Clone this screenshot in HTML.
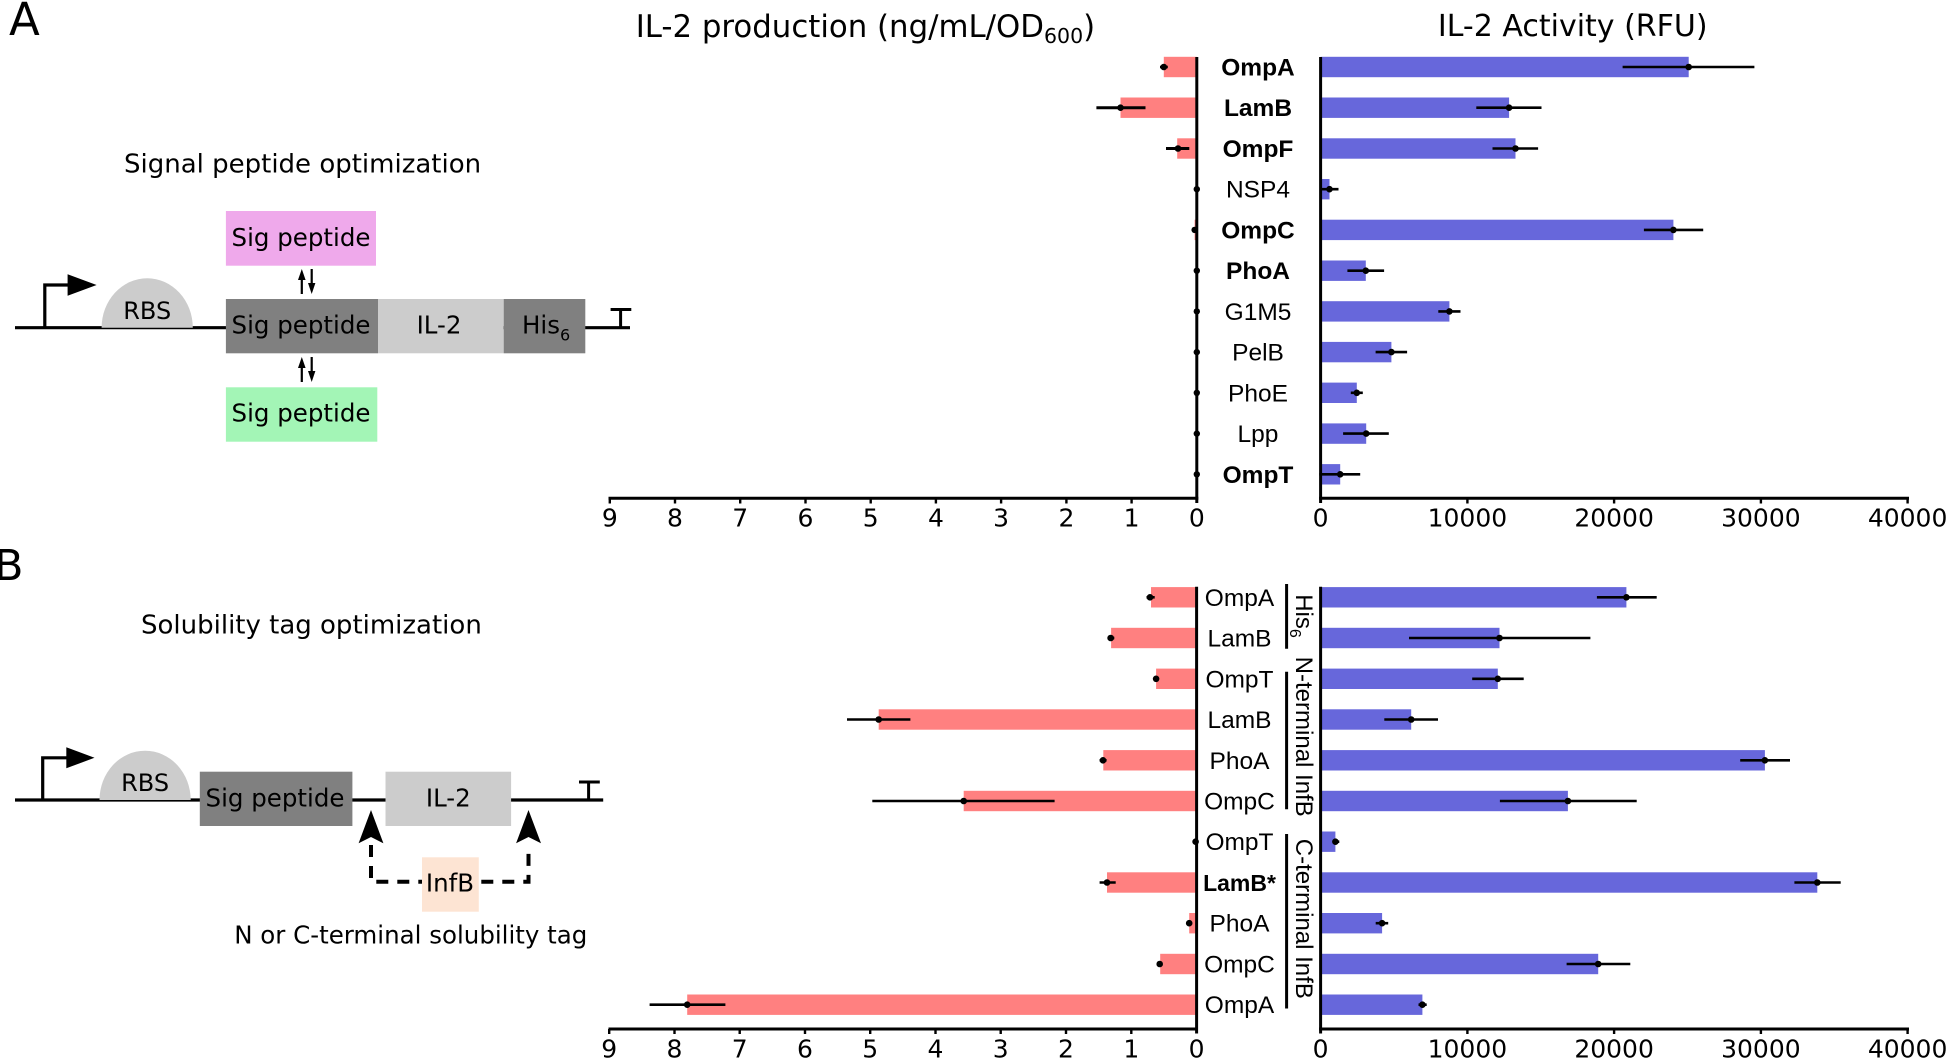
<!DOCTYPE html>
<html><head><meta charset="utf-8"><style>
html,body{margin:0;padding:0;background:#fff;}
svg{display:block;}
</style></head><body>
<svg width="1949" height="1059" viewBox="0 0 1949 1059" xmlns="http://www.w3.org/2000/svg" font-family="'DejaVu Sans', sans-serif">
<rect width="1949" height="1059" fill="#fff"/>

<!-- Panel letters -->
<text x="9" y="35" font-size="45">A</text>
<text x="-6" y="580" font-size="43">B</text>

<!-- ===== Diagram A ===== -->
<text x="124" y="172.7" font-size="26">Signal peptide optimization</text>
<rect x="225.9" y="211" width="150.1" height="54.7" fill="#EFA9EB"/>
<text x="301" y="246" font-size="24.5" text-anchor="middle">Sig peptide</text>
<!-- arrows top -->
<g stroke="#000" stroke-width="2.2" fill="#000">
<line x1="301.8" y1="294" x2="301.8" y2="276"/>
<polygon points="301.8,269 298,280 305.6,280" stroke="none"/>
<line x1="311.7" y1="269" x2="311.7" y2="287"/>
<polygon points="311.7,294 308,283 315.4,283" stroke="none"/>
<line x1="301.8" y1="382" x2="301.8" y2="364"/>
<polygon points="301.8,357 298,368 305.6,368" stroke="none"/>
<line x1="311.7" y1="357" x2="311.7" y2="375"/>
<polygon points="311.7,382 308,371 315.4,371" stroke="none"/>
</g>
<!-- main line -->
<line x1="15" y1="327.7" x2="630" y2="327.7" stroke="#000" stroke-width="3.2"/>
<polyline points="44.8,327.7 44.8,285 70,285" fill="none" stroke="#000" stroke-width="3.2"/>
<polygon points="67.6,274.3 67.6,295.7 96.6,285" fill="#000"/>
<path d="M101.6,327.7 A45.6,49.4 0 0 1 192.8,327.7 Z" fill="#CCCCCC"/>
<text x="147.2" y="319" font-size="24" text-anchor="middle">RBS</text>
<rect x="225.9" y="299" width="152.1" height="54.3" fill="#808080"/>
<rect x="378" y="299" width="125.7" height="54.3" fill="#CCCCCC"/>
<rect x="503.7" y="299" width="81.6" height="54.3" fill="#808080"/>
<text x="301" y="333.3" font-size="24.5" text-anchor="middle">Sig peptide</text>
<text x="439" y="333.3" font-size="24.5" text-anchor="middle">IL-2</text>
<text x="522" y="333.3" font-size="24.5">His<tspan font-size="16" dy="7">6</tspan></text>
<line x1="620.6" y1="309" x2="620.6" y2="327.7" stroke="#000" stroke-width="3"/>
<line x1="610.6" y1="309.5" x2="631.3" y2="309.5" stroke="#000" stroke-width="3"/>
<rect x="225.9" y="387.3" width="151.4" height="54.4" fill="#A3F5B6"/>
<text x="301" y="421.7" font-size="24.5" text-anchor="middle">Sig peptide</text>

<!-- ===== Diagram B ===== -->
<text x="141" y="633.3" font-size="26">Solubility tag optimization</text>
<line x1="15" y1="800" x2="603.2" y2="800" stroke="#000" stroke-width="3.2"/>
<polyline points="42.7,800 42.7,757.8 68,757.8" fill="none" stroke="#000" stroke-width="3.2"/>
<polygon points="66.3,747.3 66.3,768.3 94.5,757.8" fill="#000"/>
<path d="M99.5,800 A45.6,49.3 0 0 1 190.7,800 Z" fill="#CCCCCC"/>
<text x="145.1" y="791" font-size="24" text-anchor="middle">RBS</text>
<rect x="199.8" y="771.7" width="152.6" height="54.3" fill="#808080"/>
<text x="275" y="806.7" font-size="24.5" text-anchor="middle">Sig peptide</text>
<rect x="385.5" y="771.7" width="125.6" height="54.3" fill="#CCCCCC"/>
<text x="448.3" y="806.7" font-size="24.5" text-anchor="middle">IL-2</text>
<line x1="588.6" y1="781.7" x2="588.6" y2="800" stroke="#000" stroke-width="3"/>
<line x1="579" y1="782" x2="599.8" y2="782" stroke="#000" stroke-width="3"/>
<!-- dashed connector -->
<g stroke="#000" stroke-width="4" fill="none" stroke-dasharray="12,9">
<polyline points="371,845 371,881.7 528.5,881.7 528.5,845"/>
</g>
<polygon points="371,810 358.6,843.3 371,837 383.4,843.3" fill="#000"/>
<polygon points="528.5,810 516.1,843.3 528.5,837 541,843.3" fill="#000"/>
<rect x="422" y="857.3" width="56.8" height="54.4" fill="#FDE4D3"/>
<text x="450" y="891.7" font-size="24.5" text-anchor="middle">InfB</text>
<text x="234.2" y="943.3" font-size="24.5">N or C-terminal solubility tag</text>

<!-- ===== Chart titles ===== -->
<text x="635.7" y="37" font-size="30.8">IL-2 production (ng/mL/OD<tspan font-size="20.5" dy="6">600</tspan><tspan dy="-6">)</tspan></text>
<text x="1437.9" y="36" font-size="30">IL-2 Activity (RFU)</text>

<!-- ===== Panel A bars ===== -->
<g fill="#FF8080">
<rect x="1163.8" y="56.8" width="33" height="20.4"/>
<rect x="1120.5" y="97.5" width="76.3" height="20.4"/>
<rect x="1177.2" y="138.3" width="19.6" height="20.4"/>
<rect x="1194.6" y="219.7" width="2.2" height="20.4"/>
</g>
<g fill="#6767DB">
<rect x="1320.6" y="56.8" width="368.1" height="20.4"/>
<rect x="1320.6" y="97.5" width="188.5" height="20.4"/>
<rect x="1320.6" y="138.3" width="194.9" height="20.4"/>
<rect x="1320.6" y="179" width="8.9" height="20.4"/>
<rect x="1320.6" y="219.7" width="352.8" height="20.4"/>
<rect x="1320.6" y="260.5" width="45.2" height="20.4"/>
<rect x="1320.6" y="301.2" width="128.8" height="20.4"/>
<rect x="1320.6" y="341.9" width="70.8" height="20.4"/>
<rect x="1320.6" y="382.6" width="36.2" height="20.4"/>
<rect x="1320.6" y="423.4" width="45.6" height="20.4"/>
<rect x="1320.6" y="464.1" width="19.6" height="20.4"/>
</g>
<!-- A error bars -->
<g stroke="#000" stroke-width="2.6">
<line x1="1160" y1="67" x2="1167.8" y2="67"/>
<line x1="1096.4" y1="107.7" x2="1145.5" y2="107.7" stroke-width="3"/>
<line x1="1166" y1="148.5" x2="1189.3" y2="148.5" stroke-width="3"/>
<line x1="1622.6" y1="67" x2="1754.4" y2="67"/>
<line x1="1476.3" y1="107.7" x2="1541.5" y2="107.7"/>
<line x1="1492.5" y1="148.5" x2="1538.1" y2="148.5"/>
<line x1="1320.5" y1="189.2" x2="1338.5" y2="189.2"/>
<line x1="1643.9" y1="229.9" x2="1703.2" y2="229.9"/>
<line x1="1347.4" y1="270.7" x2="1384.1" y2="270.7"/>
<line x1="1438.3" y1="311.4" x2="1460.5" y2="311.4"/>
<line x1="1375.6" y1="352.1" x2="1407.1" y2="352.1"/>
<line x1="1350.8" y1="392.8" x2="1362.8" y2="392.8"/>
<line x1="1343.1" y1="433.6" x2="1388.8" y2="433.6"/>
<line x1="1319.3" y1="474.3" x2="1360.2" y2="474.3"/>
</g>
<g fill="#000">
<circle cx="1163.8" cy="67" r="3.3"/>
<circle cx="1120.5" cy="107.7" r="3.3"/>
<circle cx="1178" cy="148.5" r="3.3"/>
<circle cx="1196.8" cy="189.2" r="3.2"/>
<circle cx="1194.6" cy="229.9" r="3.2"/>
<circle cx="1196.8" cy="270.7" r="3.2"/>
<circle cx="1196.8" cy="311.4" r="3.2"/>
<circle cx="1196.8" cy="352.1" r="3.2"/>
<circle cx="1196.8" cy="392.8" r="3.2"/>
<circle cx="1196.8" cy="433.6" r="3.2"/>
<circle cx="1196.8" cy="474.3" r="3.2"/>
<circle cx="1688.7" cy="67" r="3.3"/>
<circle cx="1509.1" cy="107.7" r="3.3"/>
<circle cx="1515.5" cy="148.5" r="3.3"/>
<circle cx="1329.5" cy="189.2" r="3.3"/>
<circle cx="1673.4" cy="229.9" r="3.3"/>
<circle cx="1365.8" cy="270.7" r="3.3"/>
<circle cx="1449.4" cy="311.4" r="3.3"/>
<circle cx="1391.4" cy="352.1" r="3.3"/>
<circle cx="1356.8" cy="392.8" r="3.3"/>
<circle cx="1366.2" cy="433.6" r="3.3"/>
<circle cx="1340.2" cy="474.3" r="3.3"/>
</g>
<!-- A labels -->
<g font-family="'Liberation Sans', sans-serif" font-size="24.5" text-anchor="middle">
<text x="1258" y="75.5" font-weight="bold">OmpA</text>
<text x="1258" y="116.2" font-weight="bold">LamB</text>
<text x="1258" y="157" font-weight="bold">OmpF</text>
<text x="1258" y="197.7">NSP4</text>
<text x="1258" y="238.4" font-weight="bold">OmpC</text>
<text x="1258" y="279.2" font-weight="bold">PhoA</text>
<text x="1258" y="319.9">G1M5</text>
<text x="1258" y="360.6">PelB</text>
<text x="1258" y="401.3">PhoE</text>
<text x="1258" y="442.1">Lpp</text>
<text x="1258" y="482.8" font-weight="bold">OmpT</text>
</g>
<!-- A axes -->
<g stroke="#000" stroke-width="3" fill="none">
<line x1="1196.8" y1="57" x2="1196.8" y2="503"/>
<line x1="608.5" y1="498.3" x2="1198.3" y2="498.3"/>
<line x1="1320.6" y1="57" x2="1320.6" y2="503"/>
<line x1="1319.1" y1="498.3" x2="1909" y2="498.3"/>
</g>
<g stroke="#000" stroke-width="2.4">
<line x1="609.8" y1="498" x2="609.8" y2="503.5"/><line x1="675" y1="498" x2="675" y2="503.5"/>
<line x1="740.2" y1="498" x2="740.2" y2="503.5"/><line x1="805.5" y1="498" x2="805.5" y2="503.5"/>
<line x1="870.7" y1="498" x2="870.7" y2="503.5"/><line x1="935.9" y1="498" x2="935.9" y2="503.5"/>
<line x1="1001.1" y1="498" x2="1001.1" y2="503.5"/><line x1="1066.4" y1="498" x2="1066.4" y2="503.5"/>
<line x1="1131.6" y1="498" x2="1131.6" y2="503.5"/>
<line x1="1467.4" y1="498" x2="1467.4" y2="503.5"/><line x1="1614.1" y1="498" x2="1614.1" y2="503.5"/>
<line x1="1760.9" y1="498" x2="1760.9" y2="503.5"/><line x1="1907.6" y1="498" x2="1907.6" y2="503.5"/>
</g>
<g font-size="25" text-anchor="middle">
<text x="609.8" y="526.5">9</text><text x="675" y="526.5">8</text><text x="740.2" y="526.5">7</text>
<text x="805.5" y="526.5">6</text><text x="870.7" y="526.5">5</text><text x="935.9" y="526.5">4</text>
<text x="1001.1" y="526.5">3</text><text x="1066.4" y="526.5">2</text><text x="1131.6" y="526.5">1</text>
<text x="1196.8" y="526.5">0</text>
<text x="1320.6" y="526.5">0</text><text x="1467.4" y="526.5">10000</text><text x="1614.1" y="526.5">20000</text>
<text x="1760.9" y="526.5">30000</text><text x="1907.6" y="526.5">40000</text>
</g>

<!-- ===== Panel B bars ===== -->
<g fill="#FF8080">
<rect x="1151" y="587.1" width="45.5" height="20.4"/>
<rect x="1111.1" y="627.8" width="85.4" height="20.4"/>
<rect x="1156.1" y="668.6" width="40.4" height="20.4"/>
<rect x="878.7" y="709.3" width="317.8" height="20.4"/>
<rect x="1103.3" y="750.1" width="93.2" height="20.4"/>
<rect x="963.7" y="790.8" width="232.8" height="20.4"/>
<rect x="1107" y="872.3" width="89.5" height="20.4"/>
<rect x="1189.2" y="913" width="7.3" height="20.4"/>
<rect x="1160.2" y="953.8" width="36.3" height="20.4"/>
<rect x="687.2" y="994.5" width="509.3" height="20.4"/>
</g>
<g fill="#6767DB">
<rect x="1320.7" y="587.1" width="305.7" height="20.4"/>
<rect x="1320.7" y="627.8" width="178.8" height="20.4"/>
<rect x="1320.7" y="668.6" width="177.1" height="20.4"/>
<rect x="1320.7" y="709.3" width="90.5" height="20.4"/>
<rect x="1320.7" y="750.1" width="444.2" height="20.4"/>
<rect x="1320.7" y="790.8" width="247.2" height="20.4"/>
<rect x="1320.7" y="831.5" width="14.7" height="20.4"/>
<rect x="1320.7" y="872.3" width="496.6" height="20.4"/>
<rect x="1320.7" y="913" width="61.4" height="20.4"/>
<rect x="1320.7" y="953.8" width="277.5" height="20.4"/>
<rect x="1320.7" y="994.5" width="101.7" height="20.4"/>
</g>
<g stroke="#000" stroke-width="2.6">
<line x1="1146.5" y1="597.3" x2="1154.7" y2="597.3"/>
<line x1="1107.4" y1="638" x2="1114.3" y2="638"/>
<line x1="1154" y1="678.8" x2="1158" y2="678.8"/>
<line x1="847" y1="719.5" x2="910.4" y2="719.5"/>
<line x1="1099.6" y1="760.3" x2="1106.6" y2="760.3"/>
<line x1="872.3" y1="801" x2="1054.6" y2="801"/>
<line x1="1099.6" y1="882.5" x2="1115.7" y2="882.5"/>
<line x1="1187" y1="923.2" x2="1191" y2="923.2"/>
<line x1="1157" y1="964" x2="1162" y2="964"/>
<line x1="649.6" y1="1004.7" x2="725.4" y2="1004.7"/>
<line x1="1596.9" y1="597.3" x2="1656.7" y2="597.3"/>
<line x1="1409" y1="638" x2="1590.4" y2="638"/>
<line x1="1472.2" y1="678.8" x2="1523.7" y2="678.8"/>
<line x1="1384.3" y1="719.5" x2="1438" y2="719.5"/>
<line x1="1740.2" y1="760.3" x2="1790" y2="760.3"/>
<line x1="1499.9" y1="801" x2="1636.7" y2="801"/>
<line x1="1332.8" y1="841.7" x2="1339.3" y2="841.7"/>
<line x1="1794.4" y1="882.5" x2="1840.7" y2="882.5"/>
<line x1="1375.7" y1="923.2" x2="1388.2" y2="923.2"/>
<line x1="1566.6" y1="964" x2="1630.3" y2="964"/>
<line x1="1418.5" y1="1004.7" x2="1426.7" y2="1004.7"/>
</g>
<g fill="#000">
<circle cx="1150" cy="597.3" r="3.3"/>
<circle cx="1110.7" cy="638" r="3.3"/>
<circle cx="1156.1" cy="678.8" r="3.3"/>
<circle cx="878.7" cy="719.5" r="3.3"/>
<circle cx="1103" cy="760.3" r="3.3"/>
<circle cx="963.7" cy="801" r="3.3"/>
<circle cx="1195.6" cy="841.7" r="3.3"/>
<circle cx="1107" cy="882.5" r="3.3"/>
<circle cx="1189.2" cy="923.2" r="3.3"/>
<circle cx="1159.7" cy="964" r="3.3"/>
<circle cx="687.2" cy="1004.7" r="3.3"/>
<circle cx="1626.4" cy="597.3" r="3.3"/>
<circle cx="1499.5" cy="638" r="3.3"/>
<circle cx="1497.8" cy="678.8" r="3.3"/>
<circle cx="1411.2" cy="719.5" r="3.3"/>
<circle cx="1764.9" cy="760.3" r="3.3"/>
<circle cx="1567.9" cy="801" r="3.3"/>
<circle cx="1335.4" cy="841.7" r="3.3"/>
<circle cx="1817.3" cy="882.5" r="3.3"/>
<circle cx="1382.1" cy="923.2" r="3.3"/>
<circle cx="1598.2" cy="964" r="3.3"/>
<circle cx="1422.4" cy="1004.7" r="3.3"/>
</g>
<!-- B labels -->
<g font-family="'Liberation Sans', sans-serif" font-size="24.5" text-anchor="middle">
<text x="1239.5" y="605.8">OmpA</text>
<text x="1239.5" y="646.5">LamB</text>
<text x="1239.5" y="687.3">OmpT</text>
<text x="1239.5" y="728">LamB</text>
<text x="1239.5" y="768.8">PhoA</text>
<text x="1239.5" y="809.5">OmpC</text>
<text x="1239.5" y="850.2">OmpT</text>
<text x="1239.5" y="891" font-weight="bold" font-size="23">LamB*</text>
<text x="1239.5" y="931.7">PhoA</text>
<text x="1239.5" y="972.5">OmpC</text>
<text x="1239.5" y="1013.2">OmpA</text>
</g>
<!-- brackets -->
<g stroke="#000" stroke-width="3">
<line x1="1286.6" y1="584" x2="1286.6" y2="648.7"/>
<line x1="1286.6" y1="671.7" x2="1286.6" y2="809.3"/>
<line x1="1286.6" y1="834" x2="1286.6" y2="1008.5"/>
</g>
<g font-family="'Liberation Sans', sans-serif" font-size="24" text-anchor="middle">
<text transform="translate(1296,616) rotate(90)">His<tspan font-size="16" dy="6">6</tspan></text>
<text transform="translate(1296,736.7) rotate(90)">N-terminal InfB</text>
<text transform="translate(1296,918.8) rotate(90)">C-terminal InfB</text>
</g>
<!-- B axes -->
<g stroke="#000" stroke-width="3" fill="none">
<line x1="1196.6" y1="586.7" x2="1196.6" y2="1033.5"/>
<line x1="608.5" y1="1029" x2="1198" y2="1029"/>
<line x1="1320.6" y1="586.7" x2="1320.6" y2="1033.5"/>
<line x1="1319.1" y1="1029" x2="1909" y2="1029"/>
</g>
<g stroke="#000" stroke-width="2.4">
<line x1="609.2" y1="1029" x2="609.2" y2="1034"/><line x1="674.5" y1="1029" x2="674.5" y2="1034"/>
<line x1="739.7" y1="1029" x2="739.7" y2="1034"/><line x1="805" y1="1029" x2="805" y2="1034"/>
<line x1="870.2" y1="1029" x2="870.2" y2="1034"/><line x1="935.5" y1="1029" x2="935.5" y2="1034"/>
<line x1="1000.7" y1="1029" x2="1000.7" y2="1034"/><line x1="1066" y1="1029" x2="1066" y2="1034"/>
<line x1="1131.3" y1="1029" x2="1131.3" y2="1034"/>
<line x1="1467.4" y1="1029" x2="1467.4" y2="1034"/><line x1="1614.1" y1="1029" x2="1614.1" y2="1034"/>
<line x1="1760.9" y1="1029" x2="1760.9" y2="1034"/><line x1="1907.6" y1="1029" x2="1907.6" y2="1034"/>
</g>
<g font-size="25" text-anchor="middle">
<text x="609.2" y="1057.5">9</text><text x="674.5" y="1057.5">8</text><text x="739.7" y="1057.5">7</text>
<text x="805" y="1057.5">6</text><text x="870.2" y="1057.5">5</text><text x="935.5" y="1057.5">4</text>
<text x="1000.7" y="1057.5">3</text><text x="1066" y="1057.5">2</text><text x="1131.3" y="1057.5">1</text>
<text x="1196.6" y="1057.5">0</text>
<text x="1320.6" y="1057.5">0</text><text x="1467.4" y="1057.5">10000</text><text x="1614.1" y="1057.5">20000</text>
<text x="1760.9" y="1057.5">30000</text><text x="1907.6" y="1057.5">40000</text>
</g>
</svg>
</body></html>
